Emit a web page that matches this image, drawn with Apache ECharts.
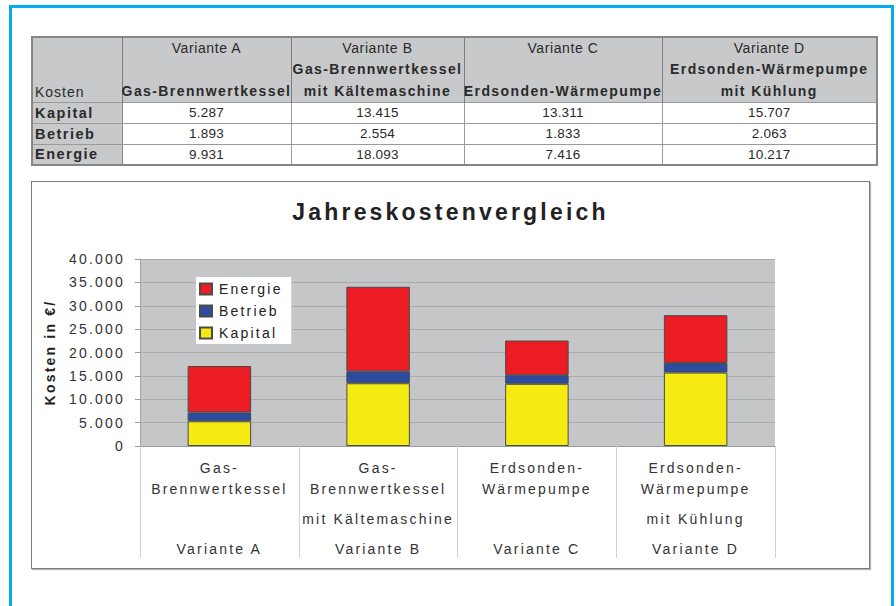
<!DOCTYPE html>
<html>
<head>
<meta charset="utf-8">
<script src="https://cdn.jsdelivr.net/npm/echarts@6/dist/echarts.min.js"></script>
<style>
  html, body { margin:0; padding:0; background:#fff; width:896px; height:606px; overflow:hidden; }
  body { position:relative; font-family:"Liberation Sans", Arial, sans-serif; color:#2a2a2a; }
  #frame { position:absolute; left:9px; top:5px; width:879px; height:700px; border:3px solid #00aeef; }
  #tbl { position:absolute; left:31px; top:36px; border-collapse:collapse; table-layout:fixed; width:845px; border:2px solid #858585; }
  #tbl td { padding:0; white-space:nowrap; font-size:14px; }
  #tbl td .c { display:flex; justify-content:center; white-space:nowrap; }
  #tbl .hd { background:#c8c9cb; border-left:1px solid #7d7d7d; border-right:1px solid #7d7d7d; overflow:visible; }
  #tbl .lab { background:#c8c9cb; border-right:1px solid #8a8a8a; padding-left:2px; }
  #tbl .num { background:#fff; border:1px solid #9a9a9a; font-size:13.5px; letter-spacing:0.2px; }
  #tbl .var { letter-spacing:0.6px; }
  #tbl .sub { font-weight:bold; letter-spacing:1.4px; }
  #tbl .rl { font-weight:bold; letter-spacing:1.5px; border-top:1px solid #9a9a9a; font-size:14.5px; }
  #chart { position:absolute; left:31px; top:181px; width:837px; height:386px; border:1px solid #7a7a7a; box-shadow:1px 1px 1px #b5b5b5; background:#fff; }
  #chart svg text { letter-spacing:2.2px; }
</style>
</head>
<body>
<div id="frame"></div>
<table id="tbl"></table>
<div id="chart"></div>
<script>
// ---- data ----
const variants = ['Variante A', 'Variante B', 'Variante C', 'Variante D'];
const systemLine1 = ['Gas-', 'Gas-', 'Erdsonden-', 'Erdsonden-'];
const systemLine2 = ['Brennwertkessel', 'Brennwertkessel', 'Wärmepumpe', 'Wärmepumpe'];
const systemLine3 = ['', 'mit Kältemaschine', '', 'mit Kühlung'];
const costNames = ['Kapital', 'Betrieb', 'Energie'];
const kapital = [5287, 13415, 13311, 15707];
const betrieb = [1893, 2554, 1833, 2063];
const energie = [9931, 18093, 7416, 10217];
const yTicks = [0, 5000, 10000, 15000, 20000, 25000, 30000, 35000, 40000];
const headerLabel = 'Kosten';
const chartTitle = 'Jahreskostenvergleich';
const yAxisName = 'Kosten in €/';

const fmt = v => String(v).replace(/\B(?=(\d{3})+(?!\d))/g, '.');

// ---- table ----
(function buildTable() {
  const tbl = document.getElementById('tbl');
  const widths = [90, 169, 173, 198, 215];
  let html = '<colgroup>' + widths.map(w => '<col style="width:' + w + 'px">').join('') + '</colgroup>';
  const sysFull = variants.map((v, i) => systemLine1[i] + systemLine2[i]);
  const row2 = variants.map((v, i) => systemLine3[i] ? sysFull[i] : '');
  const row3 = variants.map((v, i) => systemLine3[i] ? systemLine3[i] : sysFull[i]);
  html += '<tr style="height:21px"><td class="hd" rowspan="3" style="vertical-align:bottom;padding-left:2px;letter-spacing:1px;padding-bottom:2px;border-left:none">' + headerLabel + '</td>' +
    variants.map(v => '<td class="hd var"><div class="c">' + v + '</div></td>').join('') + '</tr>';
  html += '<tr style="height:22px">' + row2.map(t => '<td class="hd sub"><div class="c">' + (t || '&nbsp;') + '</div></td>').join('') + '</tr>';
  html += '<tr style="height:22px">' + row3.map(t => '<td class="hd sub"><div class="c">' + t + '</div></td>').join('') + '</tr>';
  const rows = [kapital, betrieb, energie];
  rows.forEach((r, k) => {
    html += '<tr style="height:21px"><td class="lab rl">' + costNames[k] + '</td>' +
      r.map(v => '<td class="num"><div class="c">' + fmt(v) + '</div></td>').join('') + '</tr>';
  });
  tbl.innerHTML = html;
})();

// ---- chart ----
const chart = echarts.init(document.getElementById('chart'), null, { renderer: 'svg' });
const labelColor = '#333';
const option = {
  animation: false,
  textStyle: { fontFamily: '"Liberation Sans", Arial, sans-serif' },
  title: {
    text: chartTitle, left: 'center', top: 13,
    textStyle: { fontSize: 23, fontWeight: 'bold', color: '#222', fontFamily: '"Liberation Sans", Arial, sans-serif' }
  },
  legend: {
    data: ['Energie', 'Betrieb', 'Kapital'],
    orient: 'vertical', left: 164, top: 95,
    backgroundColor: '#ffffff', padding: [5, 24, 4, 3],
    itemWidth: 12, itemHeight: 11, itemGap: 8, icon: 'rect',
    textStyle: { fontSize: 14, color: '#222', padding: [0, 0, 0, 2] }
  },
  grid: {
    left: 108, top: 77, width: 635, height: 187,
    containLabel: false, outerBoundsMode: 'none',
    show: true, backgroundColor: '#c5c6c8', borderWidth: 0
  },
  xAxis: {
    type: 'category', data: variants,
    axisLine: { show: true, lineStyle: { color: '#9a9a9a' } },
    axisTick: { show: true, length: 112, interval: 0, lineStyle: { color: '#d2d2d2' } },
    axisLabel: {
      interval: 0, margin: 11, color: labelColor, fontSize: 14,
      formatter: (v, i) => '{l1|' + systemLine1[i] + '}\n{l2|' + systemLine2[i] + '}\n{l3|' + (systemLine3[i] || ' ') + '}\n{l4|' + variants[i] + '}',
      rich: {
        l1: { fontSize: 14, color: labelColor, lineHeight: 21 },
        l2: { fontSize: 14, color: labelColor, lineHeight: 21 },
        l3: { fontSize: 14, color: labelColor, lineHeight: 39 },
        l4: { fontSize: 14, color: labelColor, lineHeight: 21 }
      }
    }
  },
  yAxis: {
    type: 'value', min: yTicks[0], max: yTicks[yTicks.length - 1], interval: yTicks[1] - yTicks[0],
    name: yAxisName, nameLocation: 'middle', nameGap: 83,
    nameTextStyle: { fontSize: 14, fontWeight: 'bold', color: '#222' },
    axisLine: { show: true, lineStyle: { color: '#a5a5a5' } },
    axisTick: { show: true, length: 5, lineStyle: { color: '#9a9a9a' } },
    splitLine: { lineStyle: { color: '#a9aaac', width: 1 } },
    axisLabel: { fontSize: 14, color: labelColor, margin: 15, formatter: v => fmt(v) }
  },
  series: [
    { name: 'Kapital', type: 'bar', stack: 'k', data: kapital, barWidth: '40%', itemStyle: { color: '#f5ea12', borderColor: '#4a4a4a', borderWidth: 1 } },
    { name: 'Betrieb', type: 'bar', stack: 'k', data: betrieb, barWidth: '40%', itemStyle: { color: '#2d4c9e', borderColor: '#4a4a4a', borderWidth: 1 } },
    { name: 'Energie', type: 'bar', stack: 'k', data: energie, barWidth: '40%', itemStyle: { color: '#ec1c24', borderColor: '#4a4a4a', borderWidth: 1 } }
  ]
};
chart.setOption(option);

function spaceTexts() {
  document.querySelectorAll('#chart svg text').forEach(t => {
    const fs = parseFloat(getComputedStyle(t).fontSize) || 14;
    t.style.letterSpacing = fs >= 20 ? '3.2px' : '2.2px';
  });
}
spaceTexts();
chart.on('finished', spaceTexts);
</script>
</body>
</html>
